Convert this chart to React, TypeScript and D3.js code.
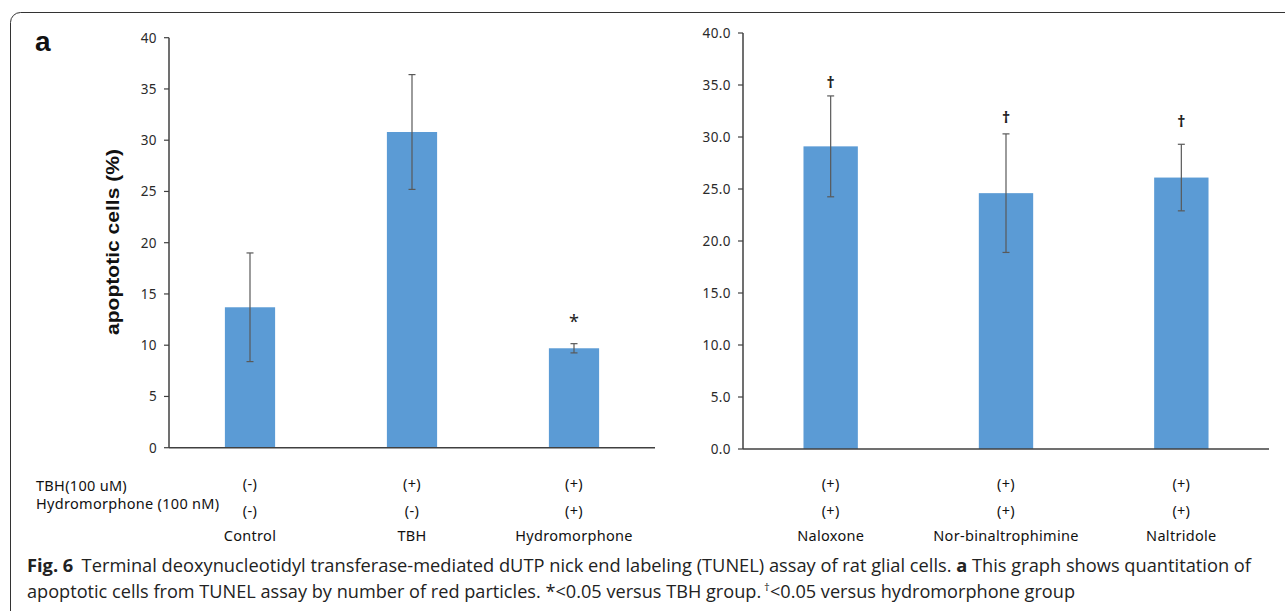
import React from 'react'
import * as d3 from 'd3'

// left panel: TBH / hydromorphone
const leftCategories = ['Control', 'TBH', 'Hydromorphone']
const leftMeans = [13.7, 30.8, 9.7]
const leftErrors = [5.3, 5.6, 0.45]
const leftMarks = ['', '', '*']
const leftMarkLevels = [0, 0, 12.4]
const leftTbhRow = ['(-)', '(+)', '(+)']
const leftHydroRow = ['(-)', '(-)', '(+)']
const leftTicks = [0, 5, 10, 15, 20, 25, 30, 35, 40]

// right panel: antagonists
const rightCategories = ['Naloxone', 'Nor-binaltrophimine', 'Naltridole']
const rightMeans = [29.1, 24.6, 26.1]
const rightErrors = [4.85, 5.7, 3.2]
const rightMarks = ['†', '†', '†']
const rightMarkLevels = [35.3, 31.9, 31.5]
const rightTbhRow = ['(+)', '(+)', '(+)']
const rightHydroRow = ['(+)', '(+)', '(+)']
const rightTicks = [0, 5, 10, 15, 20, 25, 30, 35, 40]

const rowLabels = ['TBH(100 uM)', 'Hydromorphone (100 nM)']

const barColor = '#5b9bd5'
const axisColor = '#404040'
const tickFont = "'Noto Sans', 'Open Sans', sans-serif"

const Panel = ({ categories, means, errors, marks, markLevels, row1, row2, ticks, fmt, xRange, yRange, barRatio }) => {
  const x = d3.scaleBand().domain(categories).range(xRange)
  const y = d3.scaleLinear().domain([0, 40]).range(yRange)
  const bw = x.step() * barRatio
  const cx = (c) => x(c) + x.bandwidth() / 2
  const x0 = xRange[0]

  return (
    <g>
      {categories.map((c, i) => (
        <rect key={c} x={cx(c) - bw / 2} y={y(means[i])} width={bw}
          height={y(0) - y(means[i])} fill={barColor} />
      ))}
      {categories.map((c, i) => {
        const hi = y(means[i] + errors[i])
        const lo = y(means[i] - errors[i])
        return (
          <g key={c} stroke="#595959" strokeWidth="1.2">
            <line x1={cx(c)} x2={cx(c)} y1={hi} y2={lo} />
            <line x1={cx(c) - 3.5} x2={cx(c) + 3.5} y1={hi} y2={hi} />
            <line x1={cx(c) - 3.5} x2={cx(c) + 3.5} y1={lo} y2={lo} />
          </g>
        )
      })}
      {categories.map((c, i) => marks[i] ? (
        <text key={c} x={cx(c)} y={y(markLevels[i])} textAnchor="middle" dominantBaseline="central"
          fontFamily={tickFont} fontSize={marks[i] === '*' ? 18 : 16} fontWeight={marks[i] === '*' ? 'normal' : 'bold'}
          fill="#222">{marks[i]}</text>
      ) : null)}
      {/* y axis */}
      <line x1={x0} x2={x0} y1={y(0)} y2={y(40)} stroke={axisColor} strokeWidth="1.5" />
      {ticks.map((t) => (
        <g key={t} transform={`translate(${x0},${y(t)})`}>
          <line x1={-5} x2={0} stroke={axisColor} strokeWidth="1.2" />
          <text x={-12} textAnchor="end" dominantBaseline="central" fontFamily={tickFont}
            fontSize="13.5" letterSpacing="0.4" fill="#2a2a2a">{fmt(t)}</text>
        </g>
      ))}
      <line x1={xRange[0]} x2={xRange[1]} y1={y(0)} y2={y(0)} stroke={axisColor} strokeWidth="1.6" />
      {categories.map((c, i) => (
        <g key={c} fontFamily={tickFont} fontSize="14.5" letterSpacing="0.3" fill="#111" textAnchor="middle">
          <text x={cx(c)} y={483} dominantBaseline="central">{row1[i]}</text>
          <text x={cx(c)} y={510} dominantBaseline="central">{row2[i]}</text>
          <text x={cx(c)} y={535} dominantBaseline="central">{c}</text>
        </g>
      ))}
    </g>
  )
}

const App = () => {
  return (
    <svg width="1285" height="611" viewBox="0 0 1285 611"
      style={{ position: 'absolute', left: 0, top: 0, background: '#fff' }}>
      <rect x="10.5" y="12.5" width="1300" height="640" rx="10" fill="#fff" stroke="#333" strokeWidth="1" />
      <text x="35" y="51" fontFamily="'Liberation Sans', Arial, sans-serif" fontWeight="bold" fontSize="28" fill="#111">a</text>
      <text transform="translate(112,242) rotate(-90)" textAnchor="middle" dominantBaseline="central"
        fontFamily="'Liberation Sans', Arial, sans-serif" fontWeight="bold" fontSize="18.5"
        textLength="186" lengthAdjust="spacingAndGlyphs" fill="#111">
        apoptotic cells (%)
      </text>
      <Panel categories={leftCategories} means={leftMeans} errors={leftErrors} marks={leftMarks}
        markLevels={leftMarkLevels} row1={leftTbhRow} row2={leftHydroRow} ticks={leftTicks}
        fmt={d3.format('d')} xRange={[169, 655]} yRange={[447.7, 37.7]} barRatio={0.31} />
      <Panel categories={rightCategories} means={rightMeans} errors={rightErrors} marks={rightMarks}
        markLevels={rightMarkLevels} row1={rightTbhRow} row2={rightHydroRow} ticks={rightTicks}
        fmt={d3.format('.1f')} xRange={[743, 1269]} yRange={[449, 33]} barRatio={0.31} />
      {rowLabels.map((t, i) => (
        <text key={t} x={36} y={i === 0 ? 485 : 503} dominantBaseline="central"
          fontFamily={tickFont} fontSize="14.5" letterSpacing="0.3" fill="#111">{t}</text>
      ))}
      <g fontFamily="'Open Sans', sans-serif" fontSize="17.5" fill="#222">
        <text x="27" y="572" textLength="1224" lengthAdjust="spacingAndGlyphs">
          <tspan fontWeight="bold">Fig. 6</tspan>
          <tspan dx="8">Terminal deoxynucleotidyl transferase-mediated dUTP nick end labeling (TUNEL) assay of rat glial cells. </tspan>
          <tspan fontWeight="bold">a</tspan>
          <tspan> This graph shows quantitation of</tspan>
        </text>
        <text x="27" y="598" textLength="1048" lengthAdjust="spacingAndGlyphs">
          apoptotic cells from TUNEL assay by number of red particles. *&lt;0.05 versus TBH group.
          <tspan fontSize="11" dy="-7"> †</tspan>
          <tspan dy="7">&lt;0.05 versus hydromorphone group</tspan>
        </text>
      </g>
    </svg>
  )
}

export default App
